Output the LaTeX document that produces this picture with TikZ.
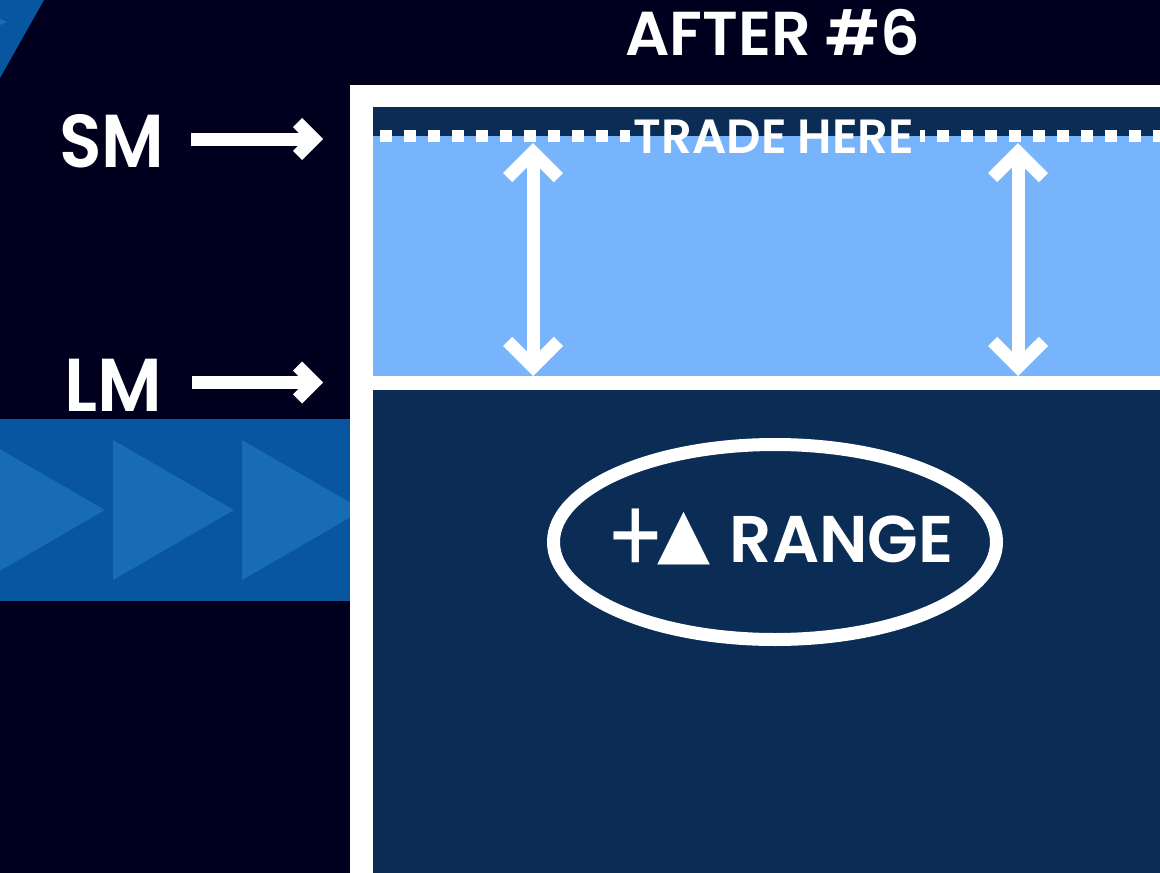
\documentclass[tikz,border=0pt]{standalone}
\usepackage{fontspec}
\setmainfont{Poppins}[BoldFont={Poppins SemiBold}]
\newfontfamily\symfont{DejaVu Sans}
\usetikzlibrary{shapes.geometric}

\definecolor{nightbg}{RGB}{0,0,30}
\definecolor{bandblue}{RGB}{8,85,160}
\definecolor{chevblue}{RGB}{23,108,181}
\definecolor{boxnavy}{RGB}{11,44,85}
\definecolor{zoneblue}{RGB}{120,180,252}

\tikzset{
  label/.style={text=white, inner sep=0pt, anchor=base, font=\bfseries},
  shaft/.style={draw=white, line width=13pt, line cap=butt},
  barb/.style={draw=white, line width=13pt, line join=miter, line cap=butt},
  dots/.style={draw=white, line width=12pt, dash pattern=on 12pt off 12pt},
}

\begin{document}
\begin{tikzpicture}[x=1pt, y=-1pt]
  % canvas
  \fill[nightbg] (0,0) rectangle (1160,873);
  \useasboundingbox (0,0) rectangle (1160,873);

  % corner strip, top left
  \begin{scope}
    \clip (0,0) -- (44,0) -- (0,78) -- cycle;
    \fill[bandblue] (0,0) rectangle (44,78);
    \fill[chevblue] (-20,10) -- (7,22) -- (-20,34) -- cycle;
  \end{scope}

  % blue band with play chevrons
  \fill[bandblue] (0,419) rectangle (350,601);
  \begin{scope}
    \clip (0,419) rectangle (350,601);
    \foreach \x in {-16,113,242}
      \fill[chevblue] (\x,440) -- (\x+121,510) -- (\x,580) -- cycle;
  \end{scope}

  % framed chart
  \fill[white] (350,85) rectangle (1160,873);
  \fill[boxnavy] (373,107) rectangle (1160,873);
  \fill[zoneblue] (373,136) rectangle (1160,376);
  \fill[white] (373,376) rectangle (1160,390);

  % dotted trade line with its label
  \node[label, font=\bfseries\fontsize{48}{48}\selectfont] (trade) at (774,153) {TRADE HERE};
  \coordinate (dotsA) at (380,136);
  \coordinate (dotsB) at (630,136);
  \coordinate (dotsC) at (920,136);
  \coordinate (dotsD) at (1160,136);
  \draw[dots] (dotsA) -- (dotsB);
  \draw[dots, dash phase=7pt] (dotsC) -- (dotsD);

  % range double arrows
  \foreach \x/\n in {533/a, 1018/b} {
    \coordinate (top\n) at (\x,152.2);
    \coordinate (bot\n) at (\x,366.8);
    \draw[shaft] (top\n) -- (bot\n);
    \draw[barb] (\x-25.4,177.6) -- (top\n) -- (\x+25.4,177.6);
    \draw[barb] (\x-25.4,341.4) -- (bot\n) -- (\x+25.4,341.4);
  }

  % title
  \node[label, font=\bfseries\fontsize{62}{62}\selectfont] (title) at (773,55) {AFTER \#6};

  % level labels and pointers
  \node[label, anchor=base west, font=\bfseries\fontsize{75}{75}\selectfont] (sm) at (59,167) {\scalebox{0.93}[1]{SM}};
  \node[label, anchor=base west, font=\bfseries\fontsize{75}{75}\selectfont] (lm) at (64,411) {\scalebox{0.96}[1]{LM}};

  \coordinate (smtail) at (191,139);
  \coordinate (smtip) at (314,139);
  \draw[shaft] (smtail) -- (smtip);
  \draw[barb] (297.6,122.6) -- (smtip) -- (297.6,155.4);

  \coordinate (lmtail) at (192,382.5);
  \coordinate (lmtip) at (314,382.5);
  \draw[shaft] (lmtail) -- (lmtip);
  \draw[barb] (297.6,366.1) -- (lmtip) -- (297.6,398.9);

  % range oval
  \node[ellipse, draw=white, line width=13pt, minimum width=443pt, minimum height=195pt, inner sep=0pt] (oval) at (775,542) {};
  \node[label, anchor=base west, font=\bfseries\fontsize{66}{66}\selectfont] (range) at (606,562)
    {\raisebox{-12pt}{\scalebox{1.3}[1.6]{\mdseries +}}\hspace{-7pt}{\symfont\fontsize{69}{69}\selectfont\raisebox{6pt}{▲}}\hspace{19pt}RANGE};
\end{tikzpicture}
\end{document}
